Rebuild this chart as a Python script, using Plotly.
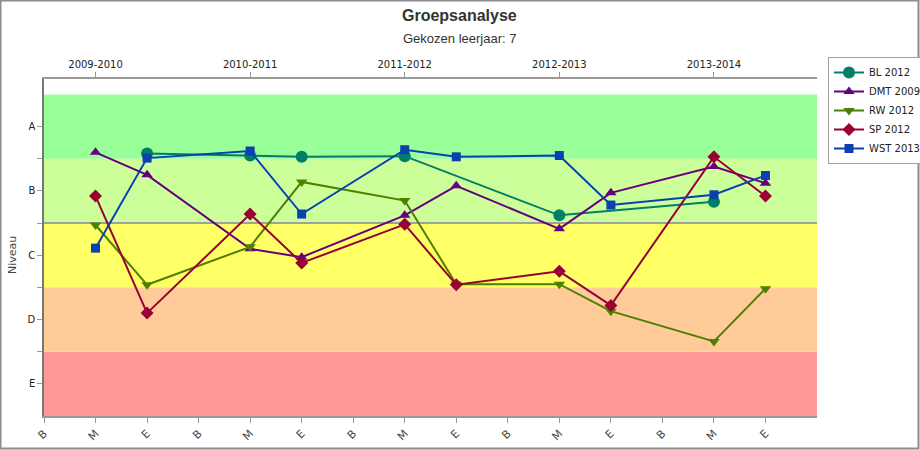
import plotly.graph_objects as go

# periods along the x axis: begin / midden / eind per school year
periods = ["B", "M", "E"] * 5
years = ["2009-2010", "2010-2011", "2011-2012", "2012-2013", "2013-2014"]
levels = ["E", "D", "C", "B", "A"]

# scores (E=1 ... A=5), None = no measurement
bl_2012 = [None, None, 4.58, None, 4.55, 4.53, None, 4.54, None, None, 3.62, None, None, 3.83, None]
dmt_2009 = [None, 4.60, 4.25, None, 3.10, 2.97, None, 3.62, 4.08, None, 3.41, 3.97, None, 4.38, 4.12]
rw_2012 = [None, 3.47, 2.54, None, 3.13, 4.14, None, 3.85, 2.55, None, 2.55, 2.13, None, 1.66, 2.48]
sp_2012 = [None, 3.92, 2.10, None, 3.64, 2.88, None, 3.48, 2.54, None, 2.75, 2.22, None, 4.53, 3.92]
wst_2013 = [None, 3.11, 4.51, None, 4.62, 3.64, None, 4.64, 4.53, None, 4.55, 3.78, None, 3.94, 4.24]

series = [
    ("BL 2012", bl_2012, "#007F66", "circle", 12),
    ("DMT 2009", dmt_2009, "#660080", "triangle-up", 10),
    ("RW 2012", rw_2012, "#4D8000", "triangle-down", 10),
    ("SP 2012", sp_2012, "#990033", "diamond", 10),
    ("WST 2013", wst_2013, "#0A40B0", "square", 9),
]

band_colors = ["#FF9999", "#FFCC99", "#FFFF66", "#CCFF99", "#99FF99"]

W, H = 920, 450
ml, mr, mt, mb = 44, 103, 79, 34
pw, ph = W - ml - mr, H - mt - mb

x = list(range(len(periods)))

fig = go.Figure()
for name, vals, color, sym, size in series:
    fig.add_trace(go.Scatter(
        x=x, y=vals, name=name, mode="lines+markers", connectgaps=True,
        line=dict(color=color, width=2),
        marker=dict(symbol=sym, size=size, color=color),
    ))

# invisible trace to carry the top (school year) axis
fig.add_trace(go.Scatter(x=[0, 14], y=[None, None], xaxis="x2", showlegend=False,
                         hoverinfo="skip"))

shapes = []
for i, c in enumerate(band_colors):
    shapes.append(dict(type="rect", xref="paper", yref="y", x0=0, x1=1,
                       y0=i + 0.5, y1=i + 1.5, fillcolor=c, line_width=0, layer="below"))
shapes.append(dict(type="line", xref="paper", yref="y", x0=0, x1=1, y0=3.5, y1=3.5,
                   line=dict(color="#A0A0A0", width=2), layer="below"))
# outer chart border
shapes.append(dict(type="rect", xref="paper", yref="paper",
                   x0=(0.5 - ml) / pw, x1=(W - 1.5 - ml) / pw,
                   y0=-(mb - 1.5) / ph, y1=1 + (mt - 0.5) / ph,
                   line=dict(color="#8C8C8C", width=2), fillcolor="rgba(0,0,0,0)"))

axis_font = dict(family="DejaVu Sans", size=10, color="#222222")

fig.update_layout(
    width=W, height=H,
    margin=dict(l=ml, r=mr, t=mt, b=mb, autoexpand=False),
    paper_bgcolor="white", plot_bgcolor="white",
    shapes=shapes,
    showlegend=True,
    legend=dict(x=(828 - ml) / pw, y=1 + (79 - 57) / ph, xanchor="left", yanchor="top",
                bordercolor="#A0A0A0", borderwidth=1, font=dict(family="DejaVu Sans", size=10, color="#222"),
                tracegroupgap=0, itemwidth=30),
    xaxis=dict(range=[0, 15], tickmode="array", tickvals=x, ticktext=periods,
               tickangle=-45, ticks="outside", ticklen=5, tickcolor="#999999",
               showline=True, linecolor="#999999", linewidth=1.5, showgrid=False,
               zeroline=False, tickfont=dict(family="DejaVu Sans", size=11, color="#444444")),
    xaxis2=dict(range=[0, 15], overlaying="x", side="top", anchor="y", tickmode="array",
                tickvals=[1, 4, 7, 10, 13], ticktext=years, ticks="outside", ticklen=5,
                tickcolor="#999999", showline=True, linecolor="#999999", linewidth=1.5,
                showgrid=False, zeroline=False, tickfont=axis_font),
    yaxis=dict(range=[0.5, 5.74], tickmode="array", tickvals=[1, 2, 3, 4, 5], ticktext=levels,
               ticks="outside", ticklen=5, tickcolor="#999999", showline=True,
               linecolor="#777777", linewidth=1.5, showgrid=False, zeroline=False,
               tickfont=axis_font,
               minor=dict(tickvals=[1.5, 2.5, 3.5, 4.5], ticks="outside", ticklen=5,
                          tickcolor="#999999", showgrid=False)),
    annotations=[
        dict(text="<b>Groepsanalyse</b>", xref="paper", yref="paper", x=(460 - ml) / pw,
             y=1 + (79 - 15) / ph, showarrow=False, xanchor="center", yanchor="middle",
             font=dict(family="Liberation Sans", size=16, color="#333333")),
        dict(text="Gekozen leerjaar: 7", xref="paper", yref="paper", x=(460 - ml) / pw,
             y=1 + (79 - 39) / ph, showarrow=False, xanchor="center", yanchor="middle",
             font=dict(family="Liberation Sans", size=13, color="#333333")),
        dict(text="Niveau", xref="paper", yref="paper", x=(12 - ml) / pw,
             y=(416 - 255) / ph, showarrow=False, textangle=-90, xanchor="center",
             yanchor="middle", font=dict(family="DejaVu Sans", size=11, color="#444444")),
    ],
)

# drop the default page margin so the chart sits at the window's top-left corner
fig.write_html("out.html", config={"displayModeBar": False},
               post_script="document.body.style.margin='0';")
